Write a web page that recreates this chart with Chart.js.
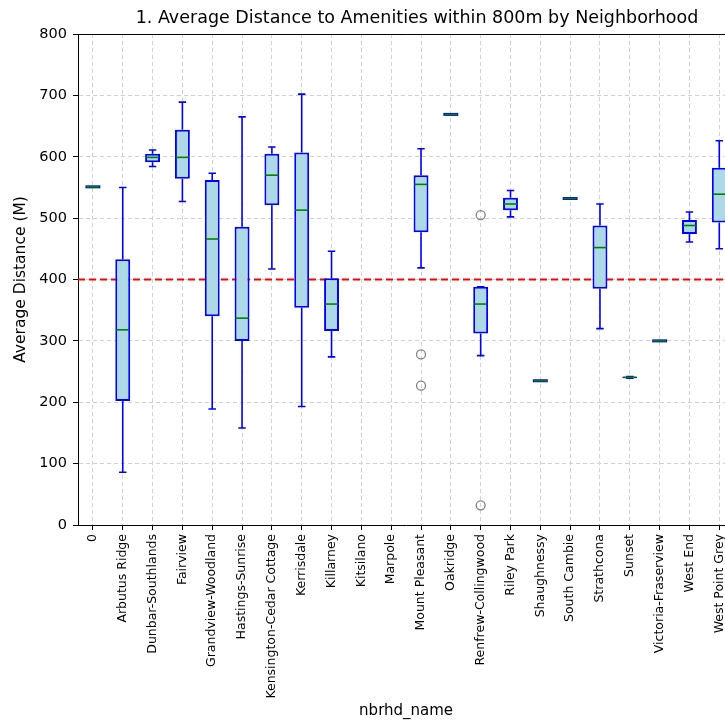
<!DOCTYPE html>
<html>
<head>
<meta charset="utf-8">
<title>Average Distance to Amenities</title>
<script src="https://cdn.jsdelivr.net/npm/chart.js@4"></script>
<style>
    html, body { margin: 0; padding: 0; background: #fff; overflow: hidden; }
    canvas { display: block; }
</style>
</head>
<body>
<canvas id="graficoDistancia" width="740" height="721"></canvas>
<script>
// ---------- dados ----------
const neighborhoods = ['0', 'Arbutus Ridge', 'Dunbar-Southlands', 'Fairview', 'Grandview-Woodland',
    'Hastings-Sunrise', 'Kensington-Cedar Cottage', 'Kerrisdale', 'Killarney', 'Kitsilano', 'Marpole',
    'Mount Pleasant', 'Oakridge', 'Renfrew-Collingwood', 'Riley Park', 'Shaughnessy', 'South Cambie',
    'Strathcona', 'Sunset', 'Victoria-Fraserview', 'West End', 'West Point Grey'];

const whiskerLow  = [551,  86, 584, 527, 189, 158, 417, 193, 274, null, null, 419, 669, 276, 502, 235, 532, 320, 239, 300, 461, 450];
const boxLow      = [551, 202, 591, 564, 340, 300, 521, 354, 316, null, null, 477, 669, 312, 513, 235, 532, 385, 239, 300, 474, 493];
const medians     = [551, 318, 599, 599, 466, 337, 570, 513, 360, null, null, 555, 669, 360, 523, 235, 532, 452, 240.5, 300, 488, 539];
const boxHigh     = [551, 433, 605, 644, 562, 486, 605, 607, 402, null, null, 570, 669, 388, 533, 235, 532, 488, 242, 300, 497, 582];
const whiskerHigh = [551, 550, 611, 689, 573, 665, 616, 702, 446, null, null, 613, 669, 388, 545, 235, 532, 523, 242, 300, 510, 626];

const outlierNames  = ['Mount Pleasant', 'Mount Pleasant', 'Renfrew-Collingwood', 'Renfrew-Collingwood'];
const outlierValues = [278, 227, 505, 32];

const threshold = 400;
const yTicks = [0, 100, 200, 300, 400, 500, 600, 700, 800];

const chartTitle = '1. Average Distance to Amenities within 800m by Neighborhood';

// ---------- plugin: linha de corte, bigodes, medianas, título ----------
const partesBoxplot = {
    id: 'partesBoxplot',
    beforeDatasetsDraw(chart) {
        // linha vermelha fica por baixo das caixas
        const { ctx, chartArea, scales } = chart;
        const yPix = scales.y.getPixelForValue(threshold);
        ctx.save();
        ctx.strokeStyle = 'red';
        ctx.lineWidth = 2;
        ctx.setLineDash([7, 4]);
        ctx.beginPath();
        ctx.moveTo(chartArea.left, yPix);
        ctx.lineTo(chartArea.right, yPix);
        ctx.stroke();
        ctx.restore();
    },
    afterDatasetDraw(chart, args) {
        if (args.index !== 0) return;
        const { ctx, scales: { x, y } } = chart;
        const meta = chart.getDatasetMeta(0);
        ctx.save();
        neighborhoods.forEach((nome, i) => {
            if (medians[i] == null) return;
            const cx = x.getPixelForValue(i);
            const half = meta.data[i].width / 2;
            const capHalf = half / 2;

            ctx.setLineDash([]);
            ctx.strokeStyle = 'blue';
            ctx.lineWidth = 1.6;

            // bigodes
            ctx.beginPath();
            ctx.moveTo(cx, y.getPixelForValue(boxLow[i]));
            ctx.lineTo(cx, y.getPixelForValue(whiskerLow[i]));
            ctx.moveTo(cx, y.getPixelForValue(boxHigh[i]));
            ctx.lineTo(cx, y.getPixelForValue(whiskerHigh[i]));
            ctx.stroke();

            // caps
            ctx.beginPath();
            [whiskerLow[i], whiskerHigh[i]].forEach((v) => {
                const py = y.getPixelForValue(v);
                ctx.moveTo(cx - capHalf, py);
                ctx.lineTo(cx + capHalf, py);
            });
            ctx.stroke();

            // caixa achatada (todos os valores iguais)
            if (boxHigh[i] - boxLow[i] < 1) {
                ctx.lineWidth = 3;
                ctx.beginPath();
                const py = y.getPixelForValue(medians[i]);
                ctx.moveTo(cx - half, py);
                ctx.lineTo(cx + half, py);
                ctx.stroke();
            }

            // mediana
            ctx.strokeStyle = 'green';
            ctx.lineWidth = 1.6;
            ctx.beginPath();
            const pm = y.getPixelForValue(medians[i]);
            ctx.moveTo(cx - half + 1, pm);
            ctx.lineTo(cx + half - 1, pm);
            ctx.stroke();
        });
        ctx.restore();
    },
    afterDraw(chart) {
        const { ctx, chartArea } = chart;
        ctx.save();
        // borda de cima (spine)
        ctx.strokeStyle = '#000';
        ctx.lineWidth = 1;
        ctx.beginPath();
        ctx.moveTo(chartArea.left, chartArea.top + 0.5);
        ctx.lineTo(chartArea.right, chartArea.top + 0.5);
        ctx.stroke();
        // título
        ctx.fillStyle = '#000';
        ctx.font = '17.5px "DejaVu Sans"';
        ctx.textAlign = 'center';
        ctx.textBaseline = 'middle';
        ctx.fillText(chartTitle, 417, 18);
        ctx.restore();
    }
};

Chart.defaults.font.family = '"DejaVu Sans", sans-serif';
Chart.defaults.color = '#000';

let ctx1 = document.getElementById('graficoDistancia');

new Chart(ctx1, {
    type: 'bar',
    data: {
        labels: neighborhoods,
        datasets: [{
            label: 'IQR',
            data: neighborhoods.map((n, i) => boxLow[i] == null ? null : [boxLow[i], boxHigh[i]]),
            backgroundColor: '#add8e6',
            borderColor: 'blue',
            borderWidth: 2,
            borderSkipped: false,
            barPercentage: 0.5,
            categoryPercentage: 1.0,
            order: 2
        },
        {
            type: 'line',
            label: 'outliers',
            data: outlierNames.map((n, i) => ({ x: n, y: outlierValues[i] })),
            showLine: false,
            pointStyle: 'circle',
            pointRadius: 4.5,
            pointBorderWidth: 1.3,
            pointBorderColor: '#808080',
            pointBackgroundColor: 'rgba(0,0,0,0)',
            order: 1
        }]
    },
    options: {
        responsive: false,
        animation: false,
        layout: { padding: { top: 34, left: 0, right: 0, bottom: 0 } },
        plugins: {
            legend: { display: false },
            tooltip: { enabled: false },
            title: { display: false }
        },
        scales: {
            x: {
                grid: {
                    offset: false,
                    color: '#d0d0d0',
                    tickLength: 5,
                    tickColor: '#000',
                    tickBorderDash: []
                },
                border: { color: '#000', width: 1, dash: [4, 3] },
                ticks: {
                    autoSkip: false,
                    minRotation: 90,
                    maxRotation: 90,
                    padding: 4,
                    font: { size: 12.5 }
                },
                title: {
                    display: true,
                    text: 'nbrhd_name',
                    font: { size: 15 },
                    padding: { top: 0, bottom: 1 }
                },
                afterFit(scale) { scale.height = 196; }
            },
            y: {
                min: 0,
                max: 800,
                afterBuildTicks(scale) { scale.ticks = yTicks.map((v) => ({ value: v })); },
                grid: {
                    color: '#d0d0d0',
                    tickLength: 5,
                    tickColor: '#000',
                    tickBorderDash: []
                },
                border: { color: '#000', width: 1, dash: [4, 3] },
                ticks: {
                    padding: 6,
                    font: { size: 14.5 }
                },
                title: {
                    display: true,
                    text: 'Average Distance (M)',
                    font: { size: 15.5 },
                    padding: { top: 12, bottom: 0 }
                },
                afterFit(scale) { scale.width = 78; }
            }
        }
    },
    plugins: [partesBoxplot]
});
</script>
</body>
</html>
